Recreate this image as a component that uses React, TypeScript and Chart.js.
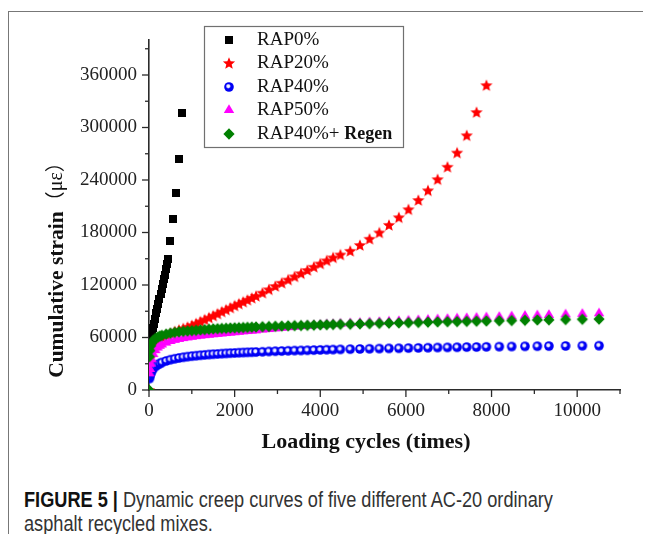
import React, { useEffect, useRef } from 'react';
import { Chart, registerables } from 'chart.js';

Chart.register(...registerables);

// ---------- data ----------
const seriesLabels = ['RAP0%', 'RAP20%', 'RAP40%', 'RAP50%', 'RAP40%+ Regen'];

// RAP0% has its own loading-cycle readings
const rap0Cycles = [20, 45, 70, 95, 120, 145, 170, 195, 220, 245, 270, 295, 320, 345, 370, 395, 420, 445, 486, 554, 640, 708, 776];
const rap0Strain = [54000, 59500, 65000, 70500, 76000, 81500, 87500, 93000, 98500, 104000, 109500, 115000, 121000, 126500, 132000, 138000, 144000, 150000, 170000, 195000, 225000, 264000, 317000];

// common loading cycles of the other four mixes
const cycles = [
  0, 10, 20, 40, 60, 100, 150, 200, 250, 300,
  400, 500, 600, 700, 800, 900, 1000,
  1100, 1200, 1300, 1400, 1500, 1600, 1700, 1800, 1900, 2000, 2100, 2200, 2300, 2400, 2500,
  2650, 2800, 2950, 3100, 3250, 3400, 3550, 3700, 3850, 4000, 4150, 4300, 4470,
  4700, 4925, 5150, 5380, 5605, 5835, 6060, 6290, 6515, 6740, 6970, 7195, 7420, 7650, 7880,
  8180, 8470, 8780, 9070, 9340, 9730, 10120, 10510,
];

const rap20Strain = [
  0, 36000, 41000, 45000, 47500, 51000, 54000, 56500, 58500, 60500,
  63000, 65000, 67000, 68800, 70500, 72200, 74000,
  76200, 78400, 80600, 82800, 85000, 87300, 89600, 91900, 94200, 96500, 98700, 100900, 103100, 105300, 107500,
  111200, 115000, 118800, 122500, 126200, 129800, 133400, 137100, 140800, 144500, 148100, 151500, 154800,
  159000, 165700, 172800, 180000, 188700, 197400, 206500, 217100, 228200, 240900, 255100, 271300, 291100, 317600, 348400,
  null, null, null, null, null, null, null, null,
];

const rap40Strain = [
  null, 13000, 15500, 18500, 21000, 24500, 27000, 28800, 30200, 31400,
  33200, 34600, 35700, 36600, 37400, 38100, 38700,
  39200, 39700, 40100, 40500, 40900, 41200, 41500, 41800, 42100, 42300, 42600, 42800, 43000, 43200, 43400,
  43700, 44000, 44300, 44500, 44800, 45000, 45200, 45400, 45600, 45800, 46000, 46200, 46400,
  46700, 46900, 47100, 47300, 47500, 47700, 47900, 48100, 48300, 48500, 48700, 48800, 49000, 49100, 49300,
  49500, 49700, 49900, 50000, 50200, 50300, 50500, 50600,
];

const rap50Strain = [
  null, 19000, 24000, 30000, 35000, 41000, 45500, 48500, 50500, 52000,
  54200, 56000, 57300, 58400, 59300, 60100, 60800,
  61500, 62100, 62700, 63200, 63700, 64200, 64600, 65100, 65500, 66000, 66500, 67000, 67400, 67800, 68200,
  69000, 69700, 70400, 71100, 71800, 72400, 73000, 73500, 74000, 74500, 75000, 75400, 75800,
  76300, 76800, 77300, 77800, 78300, 78800, 79300, 79800, 80300, 80800, 81300, 81800, 82200, 82600, 83000,
  83600, 84200, 84800, 85300, 85800, 86400, 87000, 87600,
];

const regenStrain = [
  0, 38000, 45000, 50500, 53500, 56500, 58800, 60300, 61500, 62400,
  63800, 64900, 65800, 66500, 67000, 67400, 67800,
  68200, 68600, 69000, 69400, 69800, 70000, 70300, 70500, 70800, 71000, 71200, 71400, 71600, 71800, 72000,
  72300, 72500, 72800, 73000, 73300, 73500, 73700, 73900, 74100, 74400, 74600, 74800, 75000,
  75200, 75500, 75800, 76100, 76400, 76700, 76900, 77200, 77500, 77800, 78000, 78200, 78400, 78600, 78800,
  79100, 79400, 79700, 80000, 80200, 80500, 80800, 81000,
];

// axes: tick positions and which of them carry labels
const X_MAX = 11000;
const xTickValues = [0, 1000, 2000, 3000, 4000, 5000, 6000, 7000, 8000, 9000, 10000, 11000];
const xTickLabels = ['0', '', '2000', '', '4000', '', '6000', '', '8000', '', '10000', ''];
const Y_MAX = 400000;
const yTickValues = [0, 30000, 60000, 90000, 120000, 150000, 180000, 210000, 240000, 270000, 300000, 330000, 360000, 390000];
const yTickLabels = ['0', '', '60000', '', '120000', '', '180000', '', '240000', '', '300000', '', '360000', ''];
const xTitle = 'Loading cycles (times)';
const yTitleMain = 'Cumulative strain';
const yTitleUnit = '（με）';

// ---------- styles ----------
const SERIF = "'Liberation Serif', 'Times New Roman', serif";
const AXIS = '#2b2b2b';
const CW = 635;
const CH = 470;

function makeMarker(kind: string): HTMLCanvasElement {
  const c = document.createElement('canvas');
  const s = kind === 'square' ? 8 : 14;
  c.width = s;
  c.height = s;
  const g = c.getContext('2d') as CanvasRenderingContext2D;
  const m = s / 2;
  if (kind === 'square') {
    g.fillStyle = '#000000';
    g.fillRect(0, 0, s, s);
  } else if (kind === 'star') {
    g.fillStyle = '#ff0000';
    g.beginPath();
    for (let i = 0; i < 10; i++) {
      const r = i % 2 === 0 ? 6.4 : 2.8;
      const a = -Math.PI / 2 + (i * Math.PI) / 5;
      const px = m + r * Math.cos(a);
      const py = m + 0.6 + r * Math.sin(a);
      if (i === 0) g.moveTo(px, py);
      else g.lineTo(px, py);
    }
    g.closePath();
    g.fill();
  } else if (kind === 'circle') {
    g.fillStyle = '#0000f5';
    g.beginPath();
    g.arc(m, m, 4.8, 0, Math.PI * 2);
    g.fill();
    const hx = m - 0.7;
    const hy = m - 0.8;
    const grad = g.createRadialGradient(hx, hy, 0, hx, hy, 2.7);
    grad.addColorStop(0, 'rgba(255,255,255,1)');
    grad.addColorStop(0.5, 'rgba(255,255,255,0.9)');
    grad.addColorStop(1, 'rgba(255,255,255,0)');
    g.fillStyle = grad;
    g.beginPath();
    g.arc(hx, hy, 2.7, 0, Math.PI * 2);
    g.fill();
  } else if (kind === 'triangle') {
    g.fillStyle = '#ff00ff';
    g.beginPath();
    g.moveTo(m, m - 5.8);
    g.lineTo(m + 5.2, m + 3.1);
    g.lineTo(m - 5.2, m + 3.1);
    g.closePath();
    g.fill();
  } else {
    g.fillStyle = '#008000';
    g.beginPath();
    g.moveTo(m, m - 5.8);
    g.lineTo(m + 5.6, m);
    g.lineTo(m, m + 5.8);
    g.lineTo(m - 5.6, m);
    g.closePath();
    g.fill();
  }
  return c;
}

function toPoints(xs: number[], ys: (number | null)[]) {
  const pts: { x: number; y: number }[] = [];
  xs.forEach((x, i) => {
    const y = ys[i];
    if (y !== null && y !== undefined) pts.push({ x, y });
  });
  return pts;
}

export default function App() {
  const ref = useRef<HTMLCanvasElement | null>(null);

  useEffect(() => {
    document.documentElement.style.overflow = 'hidden';
    const canvas = ref.current;
    if (!canvas) return;

    const markers = [
      makeMarker('square'),
      makeMarker('star'),
      makeMarker('circle'),
      makeMarker('triangle'),
      makeMarker('diamond'),
    ];
    const colors = ['#000000', '#ff0000', '#0000ff', '#ff00ff', '#008000'];
    const series = [
      toPoints(rap0Cycles, rap0Strain),
      toPoints(cycles, rap20Strain),
      toPoints(cycles, rap40Strain),
      toPoints(cycles, rap50Strain),
      toPoints(cycles, regenStrain),
    ];

    const datasets = series.map((pts, i) => ({
      label: seriesLabels[i],
      data: pts,
      pointStyle: markers[i] as any,
      pointRadius: 5,
      pointHoverRadius: 5,
      backgroundColor: colors[i],
      borderColor: colors[i],
      showLine: false,
      order: 5 - i,
    }));

    const decor = {
      id: 'decor',
      afterDraw(chart: any) {
        const ctx: CanvasRenderingContext2D = chart.ctx;
        const { left, bottom } = chart.chartArea;
        const xs = chart.scales.x;
        const ys = chart.scales.y;
        ctx.save();
        // tick marks: labelled ones longer
        ctx.strokeStyle = AXIS;
        ctx.lineWidth = 1.3;
        xTickValues.forEach((v, i) => {
          const px = xs.getPixelForValue(v);
          const len = xTickLabels[i] ? 7 : 4;
          ctx.beginPath();
          ctx.moveTo(px, bottom);
          ctx.lineTo(px, bottom + len);
          ctx.stroke();
        });
        yTickValues.forEach((v, i) => {
          const py = ys.getPixelForValue(v);
          const len = yTickLabels[i] ? 7 : 4;
          ctx.beginPath();
          ctx.moveTo(left - len, py);
          ctx.lineTo(left, py);
          ctx.stroke();
        });

        // axis titles
        ctx.fillStyle = '#111';
        ctx.textBaseline = 'middle';
        ctx.textAlign = 'center';
        ctx.font = `bold 22px ${SERIF}`;
        ctx.fillText(xTitle, 358, 434);

        ctx.save();
        ctx.translate(49, 257);
        ctx.rotate(-Math.PI / 2);
        const f1 = `bold 21.5px ${SERIF}`;
        const f2 = `20px 'Liberation Serif', 'Noto Sans CJK SC', serif`;
        ctx.font = f1;
        const w1 = ctx.measureText(yTitleMain).width;
        ctx.font = f2;
        const w2 = ctx.measureText(yTitleUnit).width;
        const x0 = -(w1 + w2) / 2;
        ctx.textAlign = 'left';
        ctx.font = f1;
        ctx.fillText(yTitleMain, x0, 0);
        ctx.font = f2;
        ctx.fillText(yTitleUnit, x0 + w1, 0);
        ctx.restore();

        // legend
        const bx = 196.5, by = 18.5, bw = 199, bh = 121;
        ctx.strokeStyle = '#707070';
        ctx.lineWidth = 1.2;
        ctx.strokeRect(bx, by, bw, bh);
        const rows = [32, 55, 79, 102, 126];
        const symX = 221;
        const txtX = 249;
        ctx.textAlign = 'left';
        ctx.textBaseline = 'middle';
        chart.data.datasets.forEach((ds: any, i: number) => {
          const img = markers[i];
          const cy = rows[i];
          ctx.drawImage(img, Math.round(symX - img.width / 2), Math.round(cy - img.height / 2));
          const label: string = ds.label;
          const cut = label.indexOf('+ ');
          ctx.fillStyle = '#111';
          if (cut >= 0) {
            const a = label.slice(0, cut + 2);
            const b = label.slice(cut + 2);
            ctx.font = `19px ${SERIF}`;
            ctx.fillText(a, txtX, cy);
            const wa = ctx.measureText(a).width;
            ctx.font = `bold 18px ${SERIF}`;
            ctx.fillText(b, txtX + wa, cy);
          } else {
            ctx.font = `19px ${SERIF}`;
            ctx.fillText(label, txtX, cy);
          }
        });
        ctx.restore();
      },
    };

    const tickFont = { family: SERIF, size: 19 };
    const hiddenGrid = {
      display: true,
      drawOnChartArea: false,
      drawTicks: true,
      tickLength: 7,
      color: 'rgba(0,0,0,0)',
    };

    const chart = new Chart(canvas, {
      type: 'scatter',
      data: { datasets: datasets as any },
      options: {
        animation: false,
        responsive: false,
        devicePixelRatio: 1,
        layout: { padding: { left: 0, right: CW - 612, top: 32, bottom: 0 } },
        plugins: {
          legend: { display: false },
          tooltip: { enabled: false },
        },
        scales: {
          x: {
            type: 'linear',
            min: 0,
            max: X_MAX,
            afterBuildTicks: (s: any) => {
              s.ticks = xTickValues.map((v) => ({ value: v }));
            },
            afterFit: (s: any) => {
              s.height = CH - 382;
            },
            ticks: {
              autoSkip: false,
              maxRotation: 0,
              minRotation: 0,
              padding: 3,
              font: tickFont,
              color: '#222',
              callback: (_v: any, i: number) => xTickLabels[i] ?? '',
            },
            grid: hiddenGrid,
            border: { display: true, color: AXIS, width: 1.6 },
          },
          y: {
            type: 'linear',
            min: 0,
            max: Y_MAX,
            afterBuildTicks: (s: any) => {
              s.ticks = yTickValues.map((v) => ({ value: v }));
            },
            afterFit: (s: any) => {
              s.width = 141;
            },
            ticks: {
              autoSkip: false,
              padding: 5,
              font: tickFont,
              color: '#222',
              callback: (_v: any, i: number) => yTickLabels[i] ?? '',
            },
            grid: hiddenGrid,
            border: { display: true, color: AXIS, width: 1.6 },
          },
        },
      } as any,
      plugins: [decor],
    });

    return () => {
      chart.destroy();
    };
  }, []);

  return (
    <div style={{ position: 'relative', width: 643, height: 526, overflow: 'hidden' }}>
      <div
        style={{
          position: 'absolute',
          left: 0,
          top: 3,
          width: 700,
          height: 600,
          border: '1.5px solid #777',
          boxSizing: 'border-box',
        }}
      />
      <canvas
        ref={ref}
        width={CW}
        height={CH}
        style={{ position: 'absolute', left: 0, top: 0, width: CW, height: CH }}
      />
      <div
        style={{
          position: 'absolute',
          left: 16,
          top: 480,
          fontFamily: "'Liberation Sans', Arial, sans-serif",
          fontSize: 22,
          lineHeight: '24px',
          color: '#333',
          transform: 'scaleX(0.826)',
          transformOrigin: 'left top',
          whiteSpace: 'nowrap',
        }}
      >
        <div>
          <b style={{ color: '#111' }}>FIGURE 5 |</b> Dynamic creep curves of five different AC-20 ordinary
        </div>
        <div>asphalt recycled mixes.</div>
      </div>
    </div>
  );
}
